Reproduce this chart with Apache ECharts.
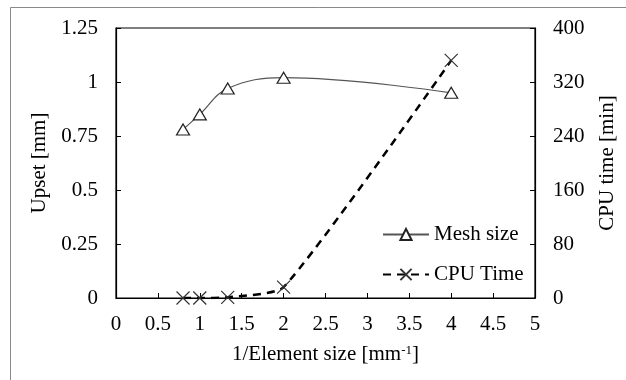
<!DOCTYPE html>
<html><head><meta charset="utf-8">
<script src="https://cdn.jsdelivr.net/npm/echarts@6/dist/echarts.min.js"></script>
<style>html,body{margin:0;padding:0;background:#fff}#c{width:626px;height:380px}</style>
</head><body><div id="c"></div>
<script>
const xValues = [0.8, 1, 1.333, 2, 4];
const meshUpset = [0.78, 0.85, 0.97, 1.02, 0.95];
const cpuTime = [0, 0, 1, 16, 352];
const seriesNames = ['Mesh size', 'CPU Time'];

const F = 'Liberation Serif';
const chart = echarts.init(document.getElementById('c'), null, {renderer: 'canvas'});
const lab = {fontFamily: F, fontSize: 21, color: '#000'};
chart.setOption({
  animation: false,
  backgroundColor: '#fff',
  grid: {left: 116, top: 28, right: 89, bottom: 82, show: true, borderColor: '#000', borderWidth: 1.2, backgroundColor: 'transparent'},
  graphic: [
    {type: 'line', shape: {x1: 10.5, y1: 7.5, x2: 10.5, y2: 380}, style: {stroke: '#888', lineWidth: 1}},
    {type: 'line', shape: {x1: 10.5, y1: 7.5, x2: 626, y2: 7.5}, style: {stroke: '#888', lineWidth: 1}}
  ],
  legend: {
    orient: 'vertical', left: 377, top: 219, itemWidth: 46, itemHeight: 14, itemGap: 19,
    data: seriesNames,
    textStyle: {fontFamily: F, fontSize: 21, color: '#000'}
  },
  xAxis: {
    type: 'value', min: 0, max: 5, interval: 0.5,
    axisLine: {lineStyle: {color: '#000', width: 1.2}},
    axisTick: {inside: true, length: 5, lineStyle: {color: '#000'}},
    axisLabel: Object.assign({margin: 16}, lab),
    splitLine: {show: false},
    name: '1/Element size [mm{sup|-1}]', nameLocation: 'middle', nameGap: 46,
    nameTextStyle: {fontFamily: F, fontSize: 21, color: '#000', rich: {sup: {fontFamily: F, fontSize: 13, color: '#000', verticalAlign: 'top', padding: [0, 0, 8, 0]}}}
  },
  yAxis: [
    {
      type: 'value', min: 0, max: 1.25, interval: 0.25,
      axisLine: {show: true, lineStyle: {color: '#000', width: 1.2}},
      axisTick: {show: true, inside: true, length: 5, lineStyle: {color: '#000'}},
      axisLabel: Object.assign({margin: 18}, lab),
      splitLine: {show: false},
      name: 'Upset [mm]', nameLocation: 'middle', nameGap: 60,
      nameTextStyle: {fontFamily: F, fontSize: 21, color: '#000'}
    },
    {
      type: 'value', min: 0, max: 400, interval: 80, position: 'right',
      axisLine: {show: true, lineStyle: {color: '#000', width: 1.2}},
      axisTick: {show: true, inside: true, length: 5, lineStyle: {color: '#000'}},
      axisLabel: Object.assign({margin: 18}, lab),
      splitLine: {show: false},
      name: 'CPU time [min]', nameLocation: 'middle', nameGap: 62,
      nameTextStyle: {fontFamily: F, fontSize: 21, color: '#000'}
    }
  ],
  series: [
    {
      name: seriesNames[0], type: 'line', yAxisIndex: 0, smooth: 0.4,
      data: xValues.map((x, i) => [x, meshUpset[i]]),
      symbol: 'triangle', symbolSize: [13, 11],
      lineStyle: {color: '#555', width: 1.2},
      itemStyle: {color: '#fff', borderColor: '#222', borderWidth: 1.2},
      z: 3
    },
    {
      name: seriesNames[1], type: 'line', yAxisIndex: 1, smooth: 0.18,
      data: xValues.map((x, i) => [x, cpuTime[i]]),
      symbol: 'path://M0,0L10,10M10,0L0,10', symbolSize: 13,
      lineStyle: {color: '#000', width: 2.5, type: [8, 6]},
      itemStyle: {color: '#fff', borderColor: '#333', borderWidth: 1.2},
      z: 2
    }
  ]
});
</script></body></html>
